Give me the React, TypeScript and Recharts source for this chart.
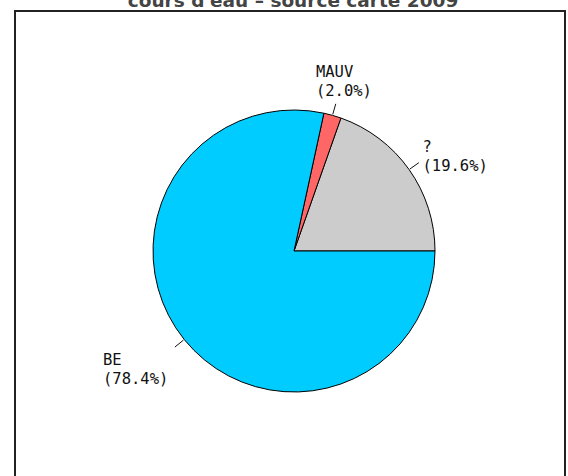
import { PieChart, Pie, Cell } from 'recharts';

const names = ['?', 'MAUV', 'BE'];
const shares = [19.6, 2.0, 78.4];
const colors = ['#cccccc', '#ff6666', '#00ccff'];
const title = "cours d'eau \u2013 source carte 2009";

const data = names.map((name, i) => ({ name, value: shares[i] }));

const RAD = Math.PI / 180;
const CHAR_W = 9.33;
const BLOCK_H = 34;

const SliceLabel = ({ cx, cy, midAngle, outerRadius, name, value }: any) => {
  const cos = Math.cos(-midAngle * RAD);
  const sin = -Math.sin(-midAngle * RAD);
  // short tick just outside the rim
  const x1 = cx + (outerRadius + 1) * cos;
  const y1 = cy - (outerRadius + 1) * sin;
  const x2 = cx + (outerRadius + 12) * cos;
  const y2 = cy - (outerRadius + 12) * sin;
  const px = cx + (outerRadius + 14) * cos;
  const py = cy - (outerRadius + 14) * sin;

  const line2 = `(${Number(value).toFixed(1)}%)`;
  const w = Math.max(name.length, line2.length) * CHAR_W;

  let left: number;
  if (Math.abs(cos) < 0.5) left = px - (w * (1 - cos)) / 2;
  else if (cos > 0) left = px + 2;
  else left = px - 5 - w;

  let top: number;
  if (sin > 0.8) top = py - 4 - BLOCK_H;
  else if (cos > 0) top = py - 5 - BLOCK_H / 2;
  else top = py + 4;

  return (
    <g>
      <line x1={x1} y1={y1} x2={x2} y2={y2} stroke="#111" strokeWidth={1} />
      <text x={left} y={top + 13} fill="#111" fontSize={15.5} fontFamily="DejaVu Sans Mono">{name}</text>
      <text x={left} y={top + 32} fill="#111" fontSize={15.5} fontFamily="DejaVu Sans Mono">{line2}</text>
    </g>
  );
};

export default function App() {
  return (
    <div style={{ position: 'absolute', left: 0, top: 0, width: 568, height: 476, background: '#fff', overflow: 'hidden' }}>
      <svg width={568} height={476} style={{ position: 'absolute', left: 0, top: 0 }}>
        <text x={293} y={7} textAnchor="middle" fill="#444" fontSize={18.5} fontWeight="bold" fontFamily="DejaVu Sans">
          {title}
        </text>
        <rect x={15} y={11} width={550} height={500} fill="none" stroke="#222" strokeWidth={2} />
      </svg>
      <div style={{ position: 'absolute', left: 0, top: 0 }}>
        <PieChart width={568} height={476} margin={{ top: 0, right: 0, bottom: 0, left: 0 }}>
          <Pie
            data={data}
            dataKey="value"
            nameKey="name"
            cx={294}
            cy={251}
            outerRadius={141}
            startAngle={0}
            endAngle={360}
            stroke="#000"
            strokeWidth={1}
            label={SliceLabel}
            labelLine={false}
            isAnimationActive={false}
          >
            {data.map((entry, i) => (
              <Cell key={`cell-${entry.name}`} fill={colors[i]} />
            ))}
          </Pie>
        </PieChart>
      </div>
    </div>
  );
}
